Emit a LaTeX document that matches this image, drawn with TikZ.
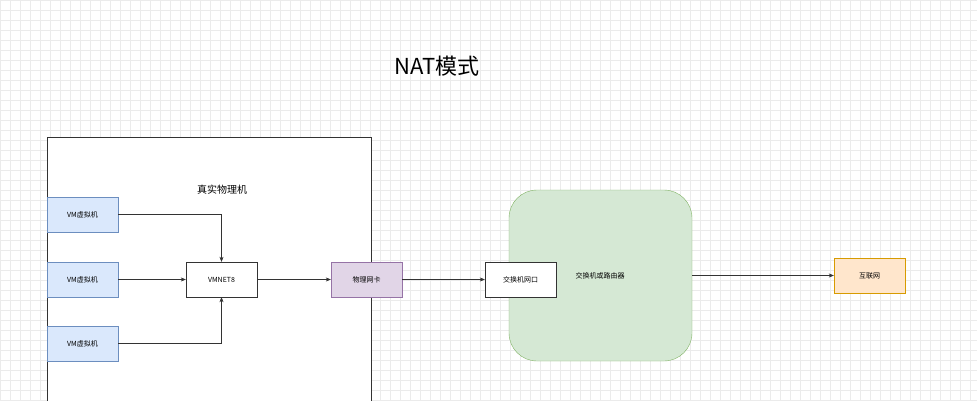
\documentclass[tikz,border=0pt]{standalone}
\usepackage{fontspec}
\setmainfont{Noto Sans CJK SC}
\usetikzlibrary{positioning,arrows.meta}
\definecolor{vmfill}{HTML}{DAE8FC}\definecolor{vmline}{HTML}{6C8EBF}
\definecolor{nicfill}{HTML}{E1D5E7}\definecolor{nicline}{HTML}{9673A6}
\definecolor{swfill}{HTML}{D5E8D4}\definecolor{swline}{HTML}{82B366}
\definecolor{netfill}{HTML}{FFE6CC}\definecolor{netline}{HTML}{D79B00}
\begin{document}
\begin{tikzpicture}[x=1pt,y=-1pt,
        block/.style={rectangle, draw=black!80, fill=white, minimum width=71pt, minimum height=35pt, inner sep=0pt, font=\fontsize{7}{8}\selectfont},
        vm/.style={block, draw=vmline, fill=vmfill},
        arrow/.style={-{Stealth[length=5pt,width=4pt]}, draw=black!80}
    ]
    \useasboundingbox (0,0) rectangle (977,400);
    \clip (0,0) rectangle (977,400);
    % background grid
    \draw[black!8, line width=0.4pt, step=10pt] (0,0) grid (977,400);

    % title
    \node[font=\fontsize{22}{26}\selectfont] (title) at (437,66) {NAT模式};

    % host machine
    \node[draw=black!80, fill=white, minimum width=324pt, minimum height=290pt, anchor=north west, inner sep=0pt] (host) at (47,137) {};
    \node[font=\fontsize{10}{12}\selectfont] (hostlabel) at (222,190) {真实物理机};

    % virtual machines
    \node[vm] (vm1) at (82.5,214.5) {VM虚拟机};
    \node[vm] (vm2) at (82.5,279.5) {VM虚拟机};
    \node[vm] (vm3) at (82.5,343.5) {VM虚拟机};
    \node[block] (vmnet) at (221.5,279.5) {VMNET8};
    \node[block, draw=nicline, fill=nicfill] (nic) at (366.5,279.5) {物理网卡};

    % switch or router
    \node[draw=swline, fill=swfill, rounded corners=28pt, minimum width=183pt, minimum height=171pt, inner sep=0pt] (switch) at (600.5,275.5) {};
    \node[font=\fontsize{7}{8}\selectfont] (switchlabel) at (600,276) {交换机或路由器};
    \node[block] (port) at (520.5,279.5) {交换机网口};

    % internet
    \node[block, draw=netline, fill=netfill] (internet) at (869.5,275.5) {互联网};

    % connect everything
    \draw[arrow] (vm1) -| (vmnet);
    \draw[arrow] (vm2) -- (vmnet);
    \draw[arrow] (vm3) -| (vmnet);
    \draw[arrow] (vmnet) -- (nic);
    \draw[arrow] (nic) -- (port);
    \draw[arrow] (switch) -- (internet);
\end{tikzpicture}
\end{document}
